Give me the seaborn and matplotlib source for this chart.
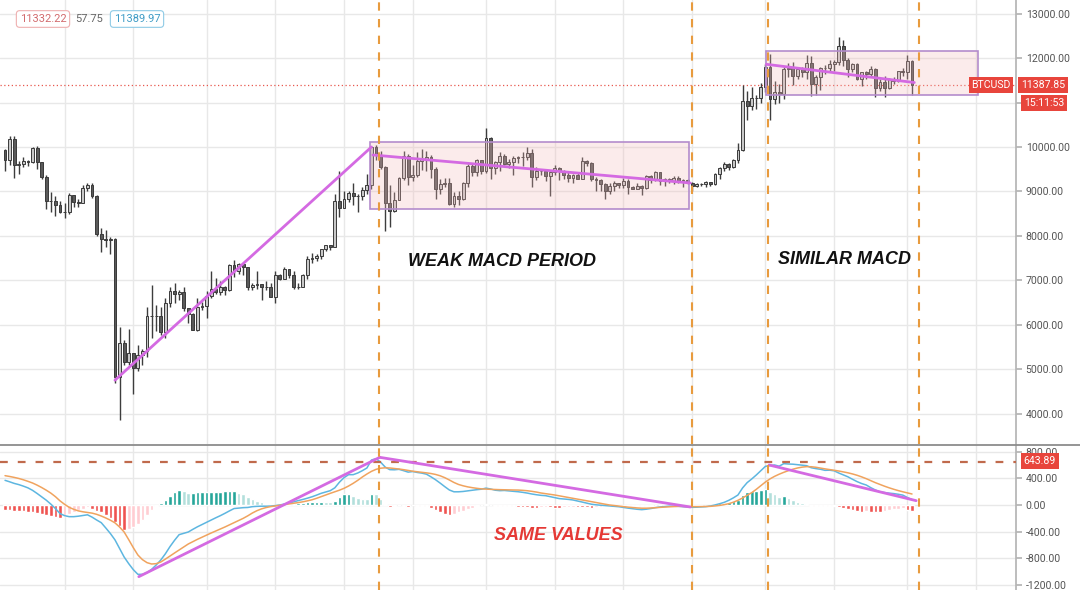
# -*- coding: utf-8 -*-
"""
BTCUSD 1D candles + MACD : weak MACD period vs similar MACD
"""

import numpy as np
import pandas as pd
import seaborn as sns
import matplotlib.pyplot as plt
from matplotlib.patches import Rectangle
from matplotlib.lines import Line2D


#%% 数据 (daily, 2020-02-17 ... 2020-09-02)
start_date = '2020-02-17'

opens = [
    9930, 9700, 10180, 9600, 9610, 9690, 9670, 9970, 9660, 9320,
    8790, 8790, 8700, 8540, 8530, 8910, 8760, 8750, 9070, 9150,
    8900, 8040, 7930, 7910, 7920, 4830, 5600, 5170, 5360, 5030,
    5330, 5410, 6190, 6200, 6190, 5830, 6490, 6770, 6700, 6730,
    6370, 6250, 5880, 6400, 6420, 6640, 6810, 6740, 6860, 6780,
    7340, 7200, 7370, 7300, 6860, 6890, 6920, 6850, 6860, 6630,
    7110, 7040, 7260, 7130, 6860, 6860, 7130, 7490, 7510, 7550,
    7700, 7790, 7760, 8780, 8620, 8830, 8970, 8900, 8890, 9030,
    9150, 9990, 9810, 9540, 8730, 8570, 8810, 9310, 9790, 9320,
    9380, 9680, 9730, 9780, 9510, 9060, 9170, 9180, 8720, 8900,
    8840, 9200, 9570, 9430, 9700, 9450, 10200, 9520, 9670, 9790,
    9620, 9670, 9750, 9780, 9770, 9870, 9320, 9470, 9460, 9340,
    9430, 9520, 9460, 9380, 9300, 9360, 9290, 9690, 9630, 9290,
    9250, 9160, 9000, 9120, 9190, 9140, 9230, 9090, 9060, 9130,
    9080, 9340, 9250, 9430, 9240, 9290, 9240, 9300, 9240, 9260,
    9200, 9130, 9160, 9170, 9210, 9160, 9390, 9530, 9610, 9550,
    9710, 9930, 11030, 10920, 11100, 11110, 11350, 11800, 11070, 11230,
    11190, 11750, 11770, 11600, 11760, 11680, 11880, 11410, 11580, 11780,
    11770, 11860, 11910, 12280, 11960, 11750, 11860, 11520, 11680, 11650,
    11750, 11330, 11470, 11330, 11540, 11480, 11710, 11680, 11930]

highs = [
    9960, 10250, 10250, 9680, 9780, 9700, 10000, 10020, 9670, 9380,
    8980, 8900, 8790, 8750, 8960, 8920, 8840, 9150, 9180, 9200,
    8910, 8180, 8140, 7980, 7950, 5950, 5650, 5900, 5370, 5550,
    5450, 6400, 6900, 6450, 6400, 6600, 6850, 6950, 6790, 6860,
    6380, 6270, 6600, 6520, 6750, 7200, 7050, 6990, 6880, 7370,
    7460, 7400, 7380, 7310, 6950, 7200, 6920, 6990, 6930, 7200,
    7150, 7300, 7260, 7220, 6950, 7150, 7550, 7620, 7600, 7700,
    7800, 7800, 8950, 9470, 9000, 9000, 9200, 8950, 9100, 9400,
    10000, 10040, 9900, 9570, 9150, 8980, 9330, 9900, 9840, 9590,
    9880, 9950, 9900, 9830, 9560, 9270, 9310, 9310, 8980, 9010,
    9220, 9620, 9610, 9740, 9700, 10420, 10230, 9690, 9880, 9850,
    9730, 9800, 9800, 9880, 9990, 9960, 9540, 9490, 9480, 9490,
    9590, 9560, 9480, 9440, 9400, 9420, 9780, 9700, 9670, 9320,
    9290, 9200, 9190, 9230, 9200, 9300, 9270, 9130, 9190, 9140,
    9370, 9360, 9450, 9440, 9310, 9300, 9340, 9340, 9280, 9270,
    9210, 9180, 9200, 9240, 9220, 9420, 9540, 9660, 9640, 9740,
    10100, 11400, 11250, 11340, 11170, 11450, 11860, 12100, 11480, 11420,
    11790, 11900, 11920, 11800, 11800, 12070, 12050, 11620, 11790, 11850,
    11960, 11950, 12480, 12400, 12000, 11880, 11880, 11690, 11710, 11820,
    11770, 11540, 11590, 11550, 11580, 11720, 11770, 12070, 11950]

lows = [
    9460, 9600, 9300, 9400, 9560, 9580, 9650, 9500, 9270, 8600,
    8540, 8450, 8520, 8410, 8500, 8660, 8660, 8740, 9000, 8850,
    8000, 7630, 7740, 7600, 4700, 3850, 5100, 5100, 4450, 4960,
    5100, 5280, 5700, 5850, 5770, 5700, 6400, 6500, 6550, 6300,
    6030, 5880, 5860, 6330, 6150, 6600, 6700, 6670, 6680, 6770,
    7080, 7150, 7120, 6780, 6780, 6810, 6560, 6780, 6620, 6480,
    7000, 7030, 7050, 6800, 6800, 6840, 7020, 7400, 7440, 7480,
    7650, 7680, 7740, 8420, 8620, 8760, 8700, 8530, 8800, 8940,
    9050, 9700, 9500, 8100, 8200, 8540, 8800, 9260, 9150, 9230,
    9330, 9480, 9470, 9300, 8820, 8950, 9090, 8700, 8640, 8700,
    8810, 9110, 9340, 9340, 9400, 9420, 9280, 9400, 9450, 9590,
    9530, 9380, 9640, 9570, 9700, 9100, 9250, 9380, 9230, 8900,
    9380, 9250, 9280, 9220, 9200, 9270, 9280, 9570, 9230, 9020,
    9020, 8830, 8950, 9020, 9080, 9080, 8950, 9050, 9050, 8910,
    9060, 9200, 9230, 9150, 9120, 9190, 9170, 9200, 9110, 9170,
    9020, 9090, 9130, 9110, 9130, 9140, 9280, 9460, 9480, 9530,
    9650, 9900, 10600, 10840, 10850, 10980, 11230, 10600, 10960, 11000,
    11090, 11580, 11400, 11530, 11570, 11540, 11140, 11160, 11280, 11650,
    11690, 11700, 11850, 11820, 11580, 11690, 11500, 11370, 11530, 11600,
    11130, 11260, 11130, 11310, 11420, 11460, 11590, 11540, 11170]

closes = [
    9700, 10180, 9600, 9610, 9690, 9670, 9970, 9660, 9320, 8790,
    8790, 8700, 8540, 8530, 8910, 8760, 8750, 9070, 9150, 8900,
    8040, 7930, 7910, 7920, 4830, 5600, 5170, 5360, 5030, 5330,
    5410, 6190, 6200, 6190, 5830, 6490, 6770, 6700, 6730, 6370,
    6250, 5880, 6400, 6420, 6640, 6810, 6740, 6860, 6780, 7340,
    7200, 7370, 7300, 6860, 6890, 6920, 6850, 6860, 6630, 7110,
    7040, 7260, 7130, 6860, 6860, 7130, 7490, 7510, 7550, 7700,
    7790, 7760, 8780, 8620, 8830, 8970, 8900, 8890, 9030, 9150,
    9990, 9810, 9540, 8730, 8570, 8810, 9310, 9790, 9320, 9380,
    9680, 9730, 9780, 9510, 9060, 9170, 9180, 8720, 8900, 8840,
    9200, 9570, 9430, 9700, 9450, 10200, 9520, 9670, 9790, 9620,
    9670, 9750, 9780, 9770, 9870, 9320, 9470, 9460, 9340, 9430,
    9520, 9460, 9380, 9300, 9360, 9290, 9690, 9630, 9290, 9250,
    9160, 9000, 9120, 9190, 9140, 9230, 9090, 9060, 9130, 9080,
    9340, 9250, 9430, 9240, 9290, 9240, 9300, 9240, 9260, 9200,
    9130, 9160, 9170, 9210, 9160, 9390, 9530, 9610, 9550, 9710,
    9930, 11030, 10920, 11100, 11110, 11350, 11800, 11070, 11230, 11190,
    11750, 11770, 11600, 11760, 11680, 11880, 11410, 11580, 11780, 11770,
    11860, 11910, 12280, 11960, 11750, 11860, 11520, 11680, 11650, 11750,
    11330, 11470, 11330, 11540, 11480, 11710, 11680, 11930, 11387.85]

# MACD (12, 26, close, 9) 读图估计
macd_line = [
    370, 348, 324, 306, 283, 257, 220, 173, 122, 72,
    13, -53, -128, -160, -175, -175, -168, -157, -147, -182,
    -225, -265, -345, -428, -523, -650, -780, -880, -970, -1040,
    -1040, -1015, -965, -900, -825, -732, -625, -530, -445, -425,
    -405, -365, -327, -293, -260, -225, -192, -160, -125, -88,
    -53, -47, -40, -37, -25, -20, -18, -18, -16, -9,
    0, 15, 30, 47, 66, 83, 102, 123, 148, 175,
    195, 215, 258, 342, 410, 455, 455, 480, 515, 555,
    675, 695, 642, 568, 530, 528, 535, 515, 493, 502,
    488, 478, 462, 422, 378, 328, 275, 225, 198, 198,
    203, 212, 220, 230, 237, 253, 240, 222, 215, 218,
    211, 205, 199, 190, 179, 165, 154, 145, 140, 125,
    110, 96, 90, 84, 75, 60, 44, 28, 12, 3,
    -3, -8, -15, -20, -26, -37, -47, -56, -64, -70,
    -63, -53, -40, -30, -23, -17, -18, -20, -26, -31,
    -35, -33, -29, -25, -15, 1, 19, 40, 70, 107,
    150, 255, 335, 390, 450, 515, 580, 592, 600, 582,
    620, 615, 612, 605, 598, 590, 559, 546, 536, 520,
    522, 513, 480, 452, 423, 386, 351, 322, 300, 260,
    225, 198, 187, 178, 171, 161, 148, 112, 80]

signal_line = [
    440, 428, 414, 398, 378, 355, 330, 298, 262, 222,
    178, 125, 62, 10, -35, -65, -88, -102, -112, -122,
    -140, -165, -195, -228, -268, -330, -405, -520, -640, -750,
    -820, -865, -885, -880, -855, -812, -765, -720, -675, -630,
    -585, -550, -515, -483, -452, -420, -390, -360, -330, -298,
    -265, -232, -200, -162, -120, -85, -58, -38, -24, -14,
    -5, 5, 15, 25, 36, 48, 62, 78, 100, 125,
    150, 175, 198, 222, 250, 285, 325, 370, 420, 465,
    505, 535, 552, 558, 555, 548, 540, 530, 518, 507,
    498, 490, 482, 472, 458, 438, 410, 375, 338, 308,
    288, 272, 260, 250, 242, 238, 235, 232, 230, 228,
    226, 225, 224, 220, 214, 205, 194, 180, 170, 160,
    150, 138, 125, 112, 100, 88, 76, 63, 50, 38,
    25, 12, 0, -8, -16, -25, -32, -38, -44, -48,
    -48, -45, -40, -35, -31, -27, -23, -20, -21, -23,
    -25, -25, -24, -22, -20, -14, -6, 5, 20, 42,
    70, 105, 145, 185, 235, 290, 345, 392, 430, 462,
    490, 515, 537, 555, 568, 575, 574, 566, 554, 542,
    532, 521, 510, 497, 483, 466, 446, 422, 395, 365,
    335, 308, 282, 258, 236, 216, 198, 182, 165]

macd_hist = [
    -70, -80, -90, -92, -95, -98, -110, -125, -140, -150,
    -165, -178, -190, -170, -140, -110, -80, -55, -35, -60,
    -85, -100, -150, -200, -255, -320, -375, -360, -330, -290,
    -220, -150, -80, -20, 30, 80, 140, 190, 230, 205,
    180, 185, 188, 190, 192, 195, 198, 200, 205, 210,
    212, 185, 160, 125, 95, 65, 40, 20, 8, 5,
    5, 10, 15, 22, 30, 35, 40, 45, 48, 50,
    45, 40, 60, 120, 160, 170, 130, 110, 95, 90,
    170, 160, 90, 10, -25, -20, -5, -15, -25, -5,
    -10, -12, -20, -50, -80, -110, -135, -150, -140, -110,
    -85, -60, -40, -20, -5, 15, 5, -10, -15, -10,
    -15, -20, -25, -30, -35, -40, -40, -35, -30, -35,
    -40, -42, -35, -28, -25, -28, -32, -35, -38, -35,
    -28, -20, -15, -12, -10, -12, -15, -18, -20, -22,
    -15, -8, 0, 5, 8, 10, 5, 0, -5, -8,
    -10, -8, -5, -3, 5, 15, 25, 35, 50, 65,
    80, 150, 190, 205, 215, 225, 235, 200, 170, 120,
    130, 100, 75, 50, 30, 15, -15, -20, -18, -22,
    -10, -8, -30, -45, -60, -80, -95, -100, -95, -105,
    -110, -110, -95, -80, -65, -55, -50, -70, -85]

# 画线工具 (day index, value)
price_trend_days = [[24, 80], [80.3, 149.6], [166.2, 198.5]]
price_trend_vals = [[4753, 10000], [9820, 9190], [11860, 11450]]
box_days = [[79.7, 149.4], [166.2, 212.3]]
box_vals = [[8604, 10120], [11170, 12150]]
macd_trend_days = [[29.2, 81.8], [81.8, 149.6], [166.8, 198.9]]
macd_trend_vals = [[-1075, 715], [715, -30], [600, 65]]
marker_days = [81.6, 150.0, 166.6, 199.5]
macd_level = 643.89

legend_close = '11332.22'
legend_diff = '57.75'
legend_last = '11389.97'
last_price = 11387.85
countdown = '15:11:53'

price_ticks = [4000, 5000, 6000, 7000, 8000, 9000, 10000, 11000, 12000, 13000]
hidden_price_ticks = [11000]   # covered by the countdown label
macd_ticks = [-1200, -800, -400, 0, 400, 800]


#%% 绘图
W, H = 1080, 590


def fx(px):
    return px / W


def fy(py):
    return 1 - py / H


def style_axis(a, yticks, ylim, hidden=()):
    a.set_xlim(-1.1, 220.7)
    a.set_ylim(*ylim)
    a.set_xticks(grid_days)
    a.set_yticks(yticks)
    a.set_yticklabels(['' if v in hidden else f'{v:.2f}' for v in yticks])
    a.yaxis.tick_right()
    a.tick_params(axis='x', length=0, labelbottom=False)
    a.tick_params(axis='y', length=4, color='#b5b5b5', labelsize=7.6,
                  labelcolor='#555555', pad=3)
    a.grid(True, color='#e8e8e8', lw=1)
    a.set_axisbelow(True)
    for s in ['left', 'top', 'bottom']:
        a.spines[s].set_visible(False)
    a.spines['right'].set_color('#b5b5b5')
    a.set_xlabel('')
    a.set_ylabel('')


def draw_chart():
    fig = plt.figure(figsize=(W / 100, H / 100), dpi=100)
    ax = fig.add_axes([0, fy(444), fx(1016), 444 / H])
    ax2 = fig.add_axes([0, 0, fx(1016), 145 / H])

    o, h, l, c = map(np.asarray, (opens, highs, lows, closes))
    up = c >= o

    # candles
    ax.vlines(days, l, h, color='#3d3d3d', lw=1, zorder=3)
    ax.bar(days[up], (c - o)[up], bottom=o[up], width=0.62, color='#c8c8c8',
           edgecolor='#3a3a3a', lw=0.7, zorder=4)
    ax.bar(days[~up], (c - o)[~up], bottom=o[~up], width=0.62, color='#5a5a5a',
           edgecolor='#3a3a3a', lw=0.7, zorder=4)

    # boxes + trend lines
    for bd, bv in zip(box_days, box_vals):
        ax.add_patch(Rectangle((bd[0], bv[0]), bd[1] - bd[0], bv[1] - bv[0],
                               fc=(0.95, 0.72, 0.72, 0.28), ec='#b48ccc', lw=1.2, zorder=5))
    for td, tv in zip(price_trend_days, price_trend_vals):
        ax.plot(td, tv, color='#d46ae2', lw=2, solid_capstyle='round', zorder=6)

    ax.axhline(last_price, color='#e8584f', lw=0.9, ls=(0, (1, 2)), zorder=2)

    # MACD
    hist = np.asarray(macd_hist)
    prev = np.r_[hist[0], hist[:-1]]
    colors = np.where(hist >= 0,
                      np.where(hist >= prev, '#26a69a', '#b2dfdb'),
                      np.where(hist <= prev, '#ef5350', '#ffcdd2'))
    ax2.bar(days, hist, width=0.8, color=colors, zorder=2)
    dfm = pd.DataFrame({'day': days, 'MACD': macd_line, 'Signal': signal_line})
    sns.lineplot(data=dfm, x='day', y='MACD', ax=ax2, color='#5db6e0', lw=1.1, zorder=3)
    sns.lineplot(data=dfm, x='day', y='Signal', ax=ax2, color='#f0a35e', lw=1.1, zorder=3)
    for td, tv in zip(macd_trend_days, macd_trend_vals):
        ax2.plot(td, tv, color='#d46ae2', lw=2, solid_capstyle='round', zorder=5)
    ax2.axhline(macd_level, color='#c06a4c', lw=1.6, ls=(0, (3.5, 4.5)), zorder=4)

    for a in (ax, ax2):
        for d in marker_days:
            a.axvline(d, color='#e89b3e', lw=1.5, ls=(0, (4, 4)), zorder=6)

    style_axis(ax, price_ticks, (3317, 13307), hidden_price_ticks)
    style_axis(ax2, macd_ticks, (-1275, 900))

    fig.add_artist(Line2D([0, 1], [fy(444.5)] * 2, color='#8c8c8c', lw=1.3))

    # 文字标注
    note = dict(fontsize=13, fontweight='bold', fontstyle='italic',
                family=['Liberation Sans', 'DejaVu Sans'], va='center', ha='left')
    fig.text(fx(408), fy(262), 'WEAK MACD PERIOD', color='#111111', **note)
    fig.text(fx(778), fy(260), 'SIMILAR MACD', color='#111111', **note)
    fig.text(fx(494), fy(535), 'SAME VALUES', color='#e53935', **note)

    # legend values top-left
    fig.text(fx(43), fy(19), legend_close, fontsize=8, color='#d26b6e', ha='center', va='center',
             bbox=dict(boxstyle='round,pad=0.3', fc='white', ec='#efb0b0', lw=0.8))
    fig.text(fx(89), fy(19), legend_diff, fontsize=8, color='#666666', ha='center', va='center')
    fig.text(fx(137), fy(19), legend_last, fontsize=8, color='#3f9cc6', ha='center', va='center',
             bbox=dict(boxstyle='round,pad=0.3', fc='white', ec='#8fcbe6', lw=0.8))

    # price / countdown / level labels
    red = dict(boxstyle='square,pad=0.25', fc='#e8453c', ec='none')
    fig.text(fx(991), fy(85), 'BTCUSD', fontsize=7.6, color='white', ha='center', va='center', bbox=red)
    fig.text(fx(1043), fy(85), f'{last_price:.2f}', fontsize=7.6, color='white',
             ha='center', va='center', bbox=red)
    fig.text(fx(1044), fy(103), countdown, fontsize=7.6, color='white', ha='center', va='center', bbox=red)
    fig.text(fx(1040), fy(461), f'{macd_level:.2f}', fontsize=7.6, color='white',
             ha='center', va='center', bbox=red)

    plt.savefig('out.png', dpi=100)
    plt.close()


#%% main入口
if __name__ == "__main__":
    sns.set_theme(style='white')
    plt.rcParams['font.family'] = ['Roboto', 'DejaVu Sans']

    days = np.arange(len(closes))
    dates = pd.date_range(start_date, periods=224, freq='D')
    grid_days = np.flatnonzero(dates.day.isin([1, 16]))

    draw_chart()
